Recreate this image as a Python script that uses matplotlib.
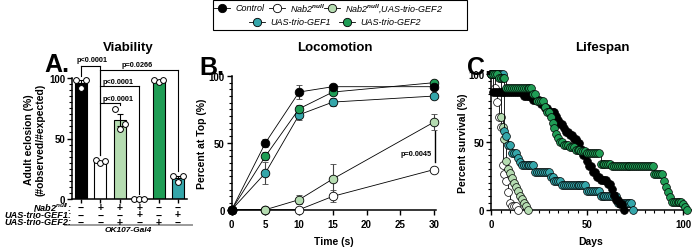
import matplotlib
matplotlib.use("Agg")
import matplotlib.pyplot as plt
from matplotlib.lines import Line2D
from matplotlib.patches import Rectangle
from matplotlib.ticker import MultipleLocator

plt.rcParams['font.family'] = ['Liberation Sans', 'DejaVu Sans']
plt.rcParams['font.weight'] = 'bold'
plt.rcParams['mathtext.fontset'] = 'custom'
plt.rcParams['mathtext.rm'] = 'Liberation Sans'
plt.rcParams['mathtext.it'] = 'Liberation Sans:italic'
plt.rcParams['mathtext.bf'] = 'Liberation Sans:bold:italic'

# ---------------- data ----------------
C_BLACK = '#000000'
C_WHITE = '#ffffff'
C_LGREEN = '#b5dcb1'
C_TEAL = '#35a6aa'
C_GREEN = '#1f9d55'

# Panel A: viability
viab_colors = [C_BLACK, C_WHITE, C_LGREEN, C_WHITE, C_GREEN, C_TEAL]
viab_means = [96, 30.5, 65, 0, 97.5, 17.5]
viab_err = [2, 1, 5, 0, 0.5, 1.5]
viab_points = [[98, 92, 98], [32, 30, 31], [74, 58, 62], [0, 0, 0], [98, 97, 98], [19, 14, 19]]
row_nab2 = ['−', '+', '+', '+', '−', '−']
row_gef1 = ['−', '−', '−', '+', '−', '+']
row_gef2 = ['−', '−', '+', '−', '+', '−']
brackets = [(0, 1, 110, 102, 36, 'p<0.0001', 0.57, 115),
            (1, 5, 107, None, 23, 'p=0.0266', 2.9, 111),
            (1, 3, 93, None, 4, 'p<0.0001', 1.9, 97.5),
            (1, 2, 79, None, 78, 'p<0.0001', 1.9, 83)]

# Panel B: locomotion
times = [0, 5, 10, 15, 30]
loco_ctrl = [0, 50, 88, 92, 92]
loco_ctrl_err = [0, 3, 5, 2, 1.5]
loco_nab2 = [0, 0, 0, 10, 30]
loco_nab2_err = [0, 0, 0, 4.5, 0]
loco_nab2gef2 = [0, 0, 7.5, 23, 65.5]
loco_nab2gef2_err = [0, 0, 3.5, 11, 6]
loco_gef1 = [0, 27.5, 71, 80.5, 85]
loco_gef1_err = [0, 8, 4, 3, 1.5]
loco_gef2 = [0, 40, 75.5, 88, 95]
loco_gef2_err = [0, 3, 3, 2, 1]

# Panel C: lifespan (daily observations)
days = [0, 1, 2, 3, 4, 5, 6, 7, 8, 9, 10, 11, 12, 13, 14, 15, 16, 17, 18, 19,
        20, 21, 22, 23, 24, 25, 26, 27, 28, 29, 30, 31, 32, 33, 34, 35, 36, 37, 38, 39,
        40, 41, 42, 43, 44, 45, 46, 47, 48, 49, 50, 51, 52, 53, 54, 55, 56, 57, 58, 59,
        60, 61, 62, 63, 64, 65, 66, 67, 68, 69, 70, 71, 72, 73, 74, 75, 76, 77, 78, 79,
        80, 81, 82, 83, 84, 85, 86, 87, 88, 89, 90, 91, 92, 93, 94, 95, 96, 97, 98, 99,
        100, 101, 102, 103]
surv_ctrl = [100, 87, 87, 87, 87, 87, 87, 87, 87, 87, 87, 87, 87, 87, 87, 87, 87,
             84, 84, 84, 84, 84, 81, 81, 81, 81, 78, 78, 75, 75, 72, 72, 72, 72,
             69, 66, 63, 63, 60, 57, 57, 55, 55, 52, 52, 49, 49, 45, 40, 40, 36,
             32, 32, 28, 28, 24, 24, 22, 22, 22, 22, 19, 19, 15, 11, 7, 7, 4, 4, 0]
surv_nab2 = [100, 100, 90, 79, 68, 61, 33, 26, 21, 13, 5, 3, 3, 3, 0]
surv_nab2gef2 = [100, 100, 100, 100, 100, 68, 61, 52, 36, 30, 27, 23, 20, 17, 14,
                 10, 8, 5, 3, 0]
surv_gef1 = [100, 100, 100, 100, 100, 100, 100, 58, 54, 48, 48, 42, 42, 42, 38, 35,
             33, 33, 33, 33, 33, 33, 33, 28, 28, 28, 28, 28, 28, 28, 28, 24, 24,
             21, 21, 21, 21, 18, 18, 18, 18, 18, 18, 18, 18, 18, 18, 18, 18, 18,
             14, 14, 14, 14, 14, 14, 14, 10, 10, 10, 10, 10, 10, 10, 10, 10,
             5, 5, 5, 5, 5, 5, 5, 5, 0]
surv_gef2 = [100, 100, 100, 100, 97, 97, 97, 97,
             90, 90, 90, 90, 90, 90, 90, 90, 90, 90, 90, 90, 90, 90,
             85, 85, 80, 80, 80, 80, 76, 72, 72, 68, 64, 60, 56, 53, 50, 50,
             48, 48, 48, 46, 46, 46, 44, 44, 44, 43, 43, 43,
             42, 42, 42, 42, 42, 42, 42, 34, 34, 34, 34, 34, 34,
             32, 32, 32, 32, 32, 32, 32, 32, 32, 32, 32, 32, 32, 32, 32, 32, 32, 32, 32, 32, 32, 32,
             26, 26, 26, 26, 26, 21, 17, 13, 9, 6, 6, 6, 6, 6, 6, 4, 2, 0]

# ---------------- figure ----------------
W, H = 694, 251
fig = plt.figure(figsize=(W / 100, H / 100), dpi=100)


def fx(px):
    return px / W


def fy(py):
    return 1 - py / H


def axes_px(l, t, r, b):
    return fig.add_axes([fx(l), fy(b), fx(r) - fx(l), fy(t) - fy(b)])


def style(ax):
    for s in ['top', 'right']:
        ax.spines[s].set_visible(False)
    for s in ['left', 'bottom']:
        ax.spines[s].set_linewidth(1.1)
    ax.tick_params(which='major', length=3.5, width=1.0, labelsize=7, pad=1.5)
    ax.tick_params(axis='x', which='major', pad=3.5)
    ax.tick_params(which='minor', length=2.2, width=0.8)
    for lab in ax.get_xticklabels() + ax.get_yticklabels():
        lab.set_fontweight('bold')


# ---- Panel A ----
axA = axes_px(72.3, 79, 186.7, 200)
xA = list(range(len(viab_means)))
axA.bar(xA, viab_means, width=0.62, color=viab_colors, edgecolor='black', linewidth=0.8, zorder=2)
axA.errorbar(xA, viab_means, yerr=viab_err, fmt='none', ecolor='black', elinewidth=0.8,
             capsize=2.5, capthick=0.8, zorder=3)
offs = [-0.25, 0, 0.25]
for i, pts in enumerate(viab_points):
    axA.plot([xA[i] + o for o in offs], pts, 'o', ms=4.2, mfc='white', mec='black', mew=0.7,
             zorder=4, clip_on=False)
axA.set_xlim(-0.45, 5.45)
axA.set_ylim(0, 100)
axA.set_yticks([0, 50, 100])
axA.yaxis.set_minor_locator(MultipleLocator(5))
axA.set_xticks(xA)
axA.set_xticklabels([])
style(axA)
axA.tick_params(axis='x', length=3)
axA.set_ylabel('Adult eclosion (%)\n(#observed/#expected)', fontsize=7.5, fontweight='bold',
               labelpad=3, linespacing=1.1)

for (a, b, yb, la, rb, txt, tx, ty) in brackets:
    axA.plot([a, b], [yb, yb], color='black', lw=0.8, clip_on=False, zorder=5)
    if la is not None:
        axA.plot([a, a], [yb, la], color='black', lw=0.8, clip_on=False, zorder=5)
    axA.plot([b, b], [yb, rb], color='black', lw=0.8, clip_on=False, zorder=5)
    axA.text(tx, ty, txt, fontsize=5.3, fontweight='bold', ha='center', va='center')
# common left leg from Nab2null
axA.plot([1, 1], [107, 36], color='black', lw=0.8, clip_on=False, zorder=5)

tA = axA.get_xaxis_transform()
row_y = [-0.065, -0.128, -0.188]
row_labels = [r'$\mathbf{Nab2}^{\mathbf{null}}$:', 'UAS-trio-GEF1:', 'UAS-trio-GEF2:']
for ry, rl, signs in zip(row_y, row_labels, [row_nab2, row_gef1, row_gef2]):
    axA.text(-0.005, ry, rl, transform=axA.transAxes, ha='right', va='center', fontsize=6.6,
             fontweight='bold', fontstyle='italic')
    for i, sg in enumerate(signs):
        axA.text(xA[i], ry, sg, transform=tA, ha='center', va='center', fontsize=7.5,
                 fontweight='bold')
axA.plot([-0.064, 1.046], [-0.212, -0.212], transform=axA.transAxes, color='#9a9a9a', lw=1.4,
         clip_on=False)
axA.text(0.49, -0.248, 'OK107-Gal4', transform=axA.transAxes, ha='center', va='center',
         fontsize=6, fontweight='bold', fontstyle='italic')

# ---- Panel B ----
axB = axes_px(231.7, 77, 436, 210.7)
series_B = [(loco_nab2, loco_nab2_err, C_WHITE), (loco_nab2gef2, loco_nab2gef2_err, C_LGREEN),
            (loco_gef1, loco_gef1_err, C_TEAL), (loco_gef2, loco_gef2_err, C_GREEN),
            (loco_ctrl, loco_ctrl_err, C_BLACK)]
for vals, errs, col in series_B:
    axB.errorbar(times, vals, yerr=errs, fmt='-o', color='black', lw=0.6, ms=6.2,
                 mfc=col, mec='black', mew=0.6, ecolor='#444444', elinewidth=0.8,
                 capsize=2.5, capthick=0.8, clip_on=False, zorder=3)
axB.set_xlim(0, 30.3)
axB.set_ylim(0, 100)
axB.set_xticks([0, 5, 10, 15, 20, 25, 30])
axB.set_yticks([0, 50, 100])
axB.yaxis.set_minor_locator(MultipleLocator(5))
style(axB)
axB.set_xlabel('Time (s)', fontsize=7.5, fontweight='bold', labelpad=5)
axB.set_ylabel('Percent at Top (%)', fontsize=7.5, fontweight='bold', labelpad=1)
axB.plot([30.2, 30.2], [59, 36], color='black', lw=1.0, clip_on=False)
axB.text(29.6, 42, 'p=0.0045', fontsize=5.3, fontweight='bold', ha='right', va='center')

# ---- Panel C ----
axC = axes_px(491, 75, 691, 210.7)
series_C = [(surv_nab2, C_WHITE), (surv_nab2gef2, C_LGREEN), (surv_gef1, C_TEAL),
            (surv_ctrl, C_BLACK), (surv_gef2, C_GREEN)]
for vals, col in series_C:
    axC.plot(days[:len(vals)], vals, '-o', drawstyle='steps-post', color='black', lw=0.6,
             ms=5.6, mfc=col, mec='black', mew=0.5, clip_on=False, zorder=3)
axC.set_xlim(0, 104)
axC.set_ylim(0, 100)
axC.set_xticks([0, 50, 100])
axC.set_yticks([0, 50, 100])
axC.xaxis.set_minor_locator(MultipleLocator(5))
axC.yaxis.set_minor_locator(MultipleLocator(5))
style(axC)
axC.set_xlabel('Days', fontsize=7.5, fontweight='bold', labelpad=5)
axC.set_ylabel('Percent survival (%)', fontsize=7.5, fontweight='bold', labelpad=0)

# titles
for tx, tt in [(128, 'Viability'), (335, 'Locomotion'), (602, 'Lifespan')]:
    fig.text(fx(tx), fy(48), tt, fontsize=9.5, fontweight='bold', ha='center', va='center')

# panel letters
fig.text(fx(44), fy(65), 'A.', fontsize=18, fontweight='bold', va='center', ha='left')
fig.text(fx(199), fy(68), 'B.', fontsize=18, fontweight='bold', va='center', ha='left')
fig.text(fx(467), fy(68), 'C.', fontsize=18, fontweight='bold', va='center', ha='left')

# legend
fig.add_artist(Rectangle((fx(213), fy(31)), fx(467) - fx(213), fy(1) - fy(31),
                         transform=fig.transFigure, fill=False, edgecolor='black', lw=0.8))
legend_items = [(222, 8.5, C_BLACK, 'Control'),
                (277, 8.5, C_WHITE, r'Nab2$^{\mathit{null}}$'),
                (332, 8.5, C_LGREEN, r'Nab2$^{\mathit{null}}$,UAS-trio-GEF2'),
                (257, 22.5, C_TEAL, 'UAS-trio-GEF1'),
                (347, 22.5, C_GREEN, 'UAS-trio-GEF2')]
for (mx, my, col, lab) in legend_items:
    fig.add_artist(Line2D([fx(mx - 8), fx(mx + 8)], [fy(my), fy(my)], transform=fig.transFigure,
                          color='black', lw=0.6))
    fig.add_artist(Line2D([fx(mx)], [fy(my)], transform=fig.transFigure, marker='o', ms=6,
                          mfc=col, mec='black', mew=0.6, lw=0))
    fig.text(fx(mx + 13), fy(my), lab, fontsize=6.5, fontstyle='italic', fontweight='normal',
             va='center', ha='left')

fig.savefig('out.png', dpi=100)
